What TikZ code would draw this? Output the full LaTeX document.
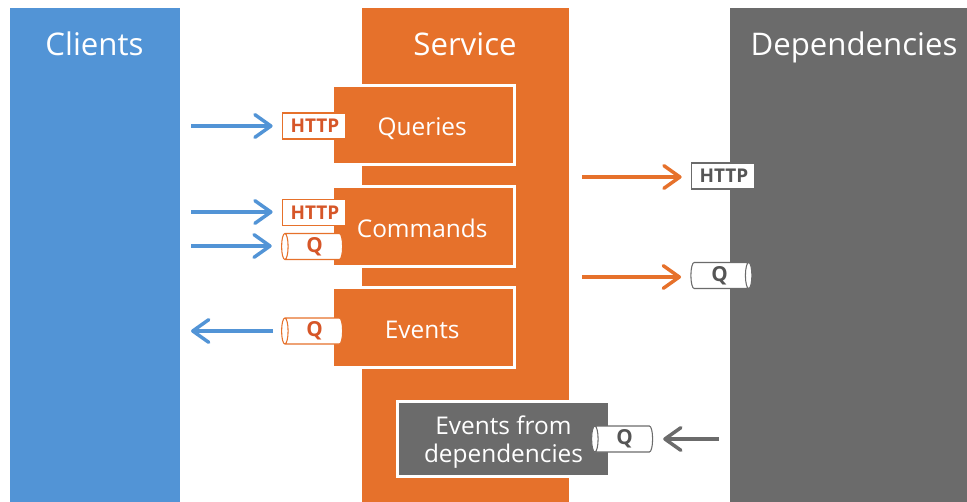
\documentclass[tikz,border=0pt]{standalone}
\usepackage{fontspec}
\setmainfont{Open Sans}
\usetikzlibrary{
	arrows.meta,
	positioning,
	shapes.geometric
}
\definecolor{main}{RGB}{82,148,214}
\definecolor{second}{RGB}{230,113,43}
\definecolor{third}{RGB}{107,107,107}
\definecolor{secondtext}{RGB}{214,86,40}
\definecolor{thirdtext}{RGB}{85,85,85}
\tikzset{
  % column
	cstcol/.style     ={inner sep=0pt,minimum height=494*.75},
	csthead/.style    ={text=white,text depth=0pt,font=\fontsize{23.4pt}{28pt}\selectfont},
  % box
	cstbox/.style     ={draw=white,line width=2.25pt,text=white,inner sep=0pt,text height=16pt,text depth=0pt,font=\fontsize{18.3pt}{21pt}\selectfont,align=center},
  % tag
	csthttp/.style    ={draw,fill=white,line width=.8pt,inner sep=0pt,minimum width=63*.75,minimum height=26*.75,font=\bfseries\fontsize{14.2pt}{16pt}\selectfont},
	cstq/.style       ={cylinder,draw,fill=white,line width=.8pt,inner sep=0pt,minimum width=26*.75,minimum height=61*.75,shape aspect=.35,font=\bfseries\fontsize{15.5pt}{16pt}\selectfont},
  % arrow
	cstra/.style      ={-{Straight Barb[length=12pt,width=17pt,line width=2.6pt,round]},line width=2.6pt,shorten >=7pt}
}
\begin{document}
\begin{tikzpicture}[x=.75pt,y=-.75pt]
	\useasboundingbox (0,0) rectangle (967,502);
	% columns
	\node[cstcol,fill=main,minimum width=170*.75] (clients) at (95,255) {};
	\node[cstcol,fill=second,minimum width=207*.75] (service) at (465.5,255) {};
	\node[cstcol,fill=third,minimum width=237*.75] (depend) at (848.5,255) {};
	\node[csthead] (clientshead) at (94.5,44) {Clients};
	\node[csthead] (servicehead) at (465,44) {Service};
	\node[csthead] (dependhead) at (854,44) {Dependencies};
	% service boxes
	\node[cstbox,fill=second,minimum width=182.5*.75,minimum height=79*.75] (queries) at (423.25,125) {\hspace*{-1.6pt}Queries};
	\node[cstbox,fill=second,minimum width=182.5*.75,minimum height=80*.75] (commands) at (423.25,226.5) {\hspace*{-1.6pt}Commands};
	\node[cstbox,fill=second,minimum width=182.5*.75,minimum height=80*.75] (events) at (423.25,327.5) {\hspace*{-1.6pt}Events};
	\node[cstbox,fill=third,minimum width=212*.75,minimum height=75*.75,text height=36.9pt,text depth=2.2pt] (eventsdep) at (503.5,439) {Events from\\dependencies};
	% tags
	\node[csthttp,draw=second,text=secondtext] (httpq) at (314,126) {\hspace*{1.5pt}HTTP};
	\node[csthttp,draw=second,text=secondtext] (httpc) at (314,212.5) {\hspace*{1.5pt}HTTP};
	\node[cstq,shape border rotate=180,draw=second,text=secondtext] (qc) at (314,246.5) {\hspace*{1pt}Q};
	\node[cstq,shape border rotate=180,draw=second,text=secondtext] (qe) at (314,331) {\hspace*{1pt}Q};
	\node[csthttp,draw=third,text=thirdtext] (httpd) at (723,176) {\hspace*{1.5pt}HTTP};
	\node[cstq,draw=third,text=thirdtext] (qd) at (719.5,275.5) {Q};
	\node[cstq,shape border rotate=180,draw=third,text=thirdtext] (qf) at (624,439) {\hspace*{1pt}Q};
	% free ends
	\coordinate (a1) at (191,126);
	\coordinate (a2) at (191,212);
	\coordinate (a3) at (191,246);
	\coordinate (a4) at (191,331);
	\coordinate (a5) at (582,177);
	\coordinate (a6) at (582,277);
	\coordinate (a7) at (719,439);
	% arrows
	\draw[cstra,main] (a1) -- (a1-|httpq.west);
	\draw[cstra,main] (a2) -- (a2-|httpc.west);
	\draw[cstra,main] (a3) -- (a3-|qc.west);
	\draw[cstra,main,shorten >=0pt,shorten <=6pt] (a4-|qe.west) -- (a4);
	\draw[cstra,second] (a5) -- (a5-|httpd.west);
	\draw[cstra,second] (a6) -- (a6-|qd.west);
	\draw[cstra,third,shorten >=0pt] (a7) -- ([xshift=7.5pt]a7-|qf.east);
\end{tikzpicture}
\end{document}
